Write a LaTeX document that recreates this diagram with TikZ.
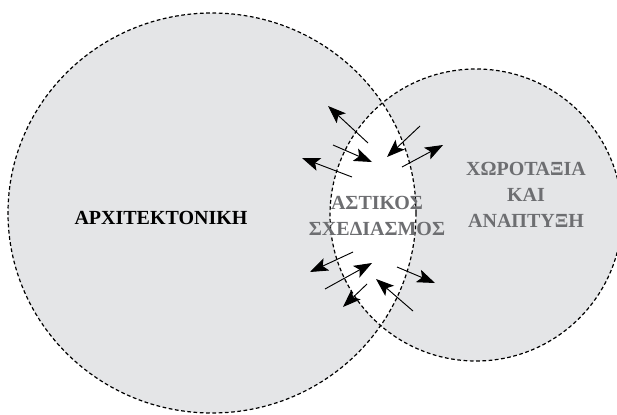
\documentclass[tikz,border=0pt]{standalone}
\usepackage{fontspec}
\setmainfont{Liberation Serif}
\usepackage{xcolor}
\usetikzlibrary{arrows.meta}

\definecolor{fieldgray}{HTML}{E4E5E7}
\definecolor{textgray}{HTML}{6D6E71}

\begin{document}
\begin{tikzpicture}[
            x = 0.75pt, y = -0.75pt, % pixel grid, y runs down
            > = {Stealth[length=13.5pt,width=10pt,inset=3pt]}, % arrow head style
            border/.style = {draw=black, dash pattern=on 2.8pt off 1.9pt, line width=0.9pt},
            flow/.style = {->, line width=0.7pt},
            fieldtext/.style = {font=\bfseries\fontsize{15}{19.5}\selectfont, align=center}
        ]
\useasboundingbox (0,0) rectangle (617,414);

% the two fields, their overlap left white
\fill[fieldgray] (212,213) ellipse [x radius=204, y radius=200];
\fill[fieldgray] (476,215) circle [radius=146];
\begin{scope}
  \clip (212,213) ellipse [x radius=204, y radius=200];
  \fill[white] (476,215) circle [radius=146];
\end{scope}
\draw[border] (212,213) ellipse [x radius=204, y radius=200];
\draw[border] (476,215) circle [radius=146];

\node[fieldtext] (arch) at (161,218) {ΑΡΧΙΤΕΚΤΟΝΙΚΗ};
\node[fieldtext, text=textgray] (urban) at (377,216) {ΑΣΤΙΚΟΣ\\ΣΧΕΔΙΑΣΜΟΣ};
\node[fieldtext, text=textgray] (plan) at (526,195) {ΧΩΡΟΤΑΞΙΑ\\ΚΑΙ\\ΑΝΑΠΤΥΞΗ};

% exchanges across the overlap
\foreach \i/\tx/\ty/\hx/\hy in {1/368/143/328/106, 2/333/145/372/162, 3/352/177/302/158,
    4/420/126/387/157, 5/402/167/443/145, 6/353/252/310/272, 7/325/289/372/263,
    8/367/284/343/307, 9/413/311/376/279, 10/397/267/435/283} {
  \coordinate (t\i) at (\tx,\ty);
  \coordinate (h\i) at (\hx,\hy);
  \draw[flow] (t\i) -- (h\i);
}
\end{tikzpicture}
\end{document}
